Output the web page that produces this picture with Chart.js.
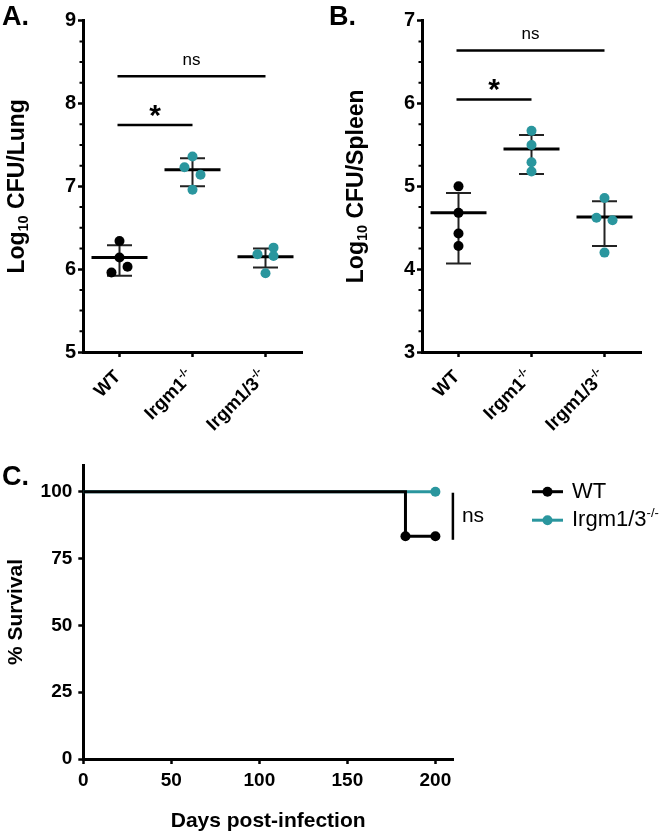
<!DOCTYPE html>
<html>
<head>
<meta charset="utf-8">
<script src="https://cdn.jsdelivr.net/npm/chart.js@4"></script>
<style>
html,body{margin:0;padding:0;background:#fff;width:666px;height:836px;overflow:hidden}
canvas{position:absolute}
#cA{left:0;top:0;width:333px;height:460px}
#cB{left:326px;top:0;width:340px;height:460px}
#cC{left:0;top:460px;width:666px;height:376px}
</style>
</head>
<body>
<canvas id="cA" width="333" height="460"></canvas>
<canvas id="cB" width="340" height="460"></canvas>
<canvas id="cC" width="666" height="376"></canvas>
<script>
// ---------------- data ----------------
const categories = ['WT', 'Irgm1', 'Irgm1/3'];
const categorySup = ['', '-/-', '-/-'];

const lungWT = [6.34, 6.14, 6.03, 5.96];
const lungIrgm1 = [7.36, 7.14, 7.23, 6.96];
const lungIrgm13 = [6.26, 6.18, 6.16, 5.95];
const lungMean = [6.14, 7.20, 6.15];
const lungErrLow = [5.92, 7.00, 6.02];
const lungErrHigh = [6.29, 7.34, 6.25];
const lungTicks = [5, 6, 7, 8, 9];
const lungSigPairs = [[0, 1], [0, 2]];
const lungSigLevels = [7.74, 8.33];
const lungSigLabels = ['*', 'ns'];

const spleenWT = [5.00, 4.68, 4.43, 4.28];
const spleenIrgm1 = [5.67, 5.50, 5.29, 5.18];
const spleenIrgm13 = [4.86, 4.59, 4.62, 4.20];
const spleenMean = [4.68, 5.45, 4.63];
const spleenErrLow = [4.07, 5.15, 4.28];
const spleenErrHigh = [4.92, 5.62, 4.82];
const spleenTicks = [3, 4, 5, 6, 7];
const spleenSigPairs = [[0, 1], [0, 2]];
const spleenSigLevels = [6.05, 6.64];
const spleenSigLabels = ['*', 'ns'];

const survivalGroups = ['WT', 'Irgm1/3'];
const survivalGroupSup = ['', '-/-'];
const wtDays = [0, 183, 200];
const wtSurvival = [100, 83.33, 83.33];
const koDays = [0, 200];
const koSurvival = [100, 100];
const dayTicks = [0, 50, 100, 150, 200];
const survivalTicks = [0, 25, 50, 75, 100];
const survivalSigLabel = 'ns';

// ---------------- style ----------------
const FONT = '"Liberation Sans", Arial, Helvetica, sans-serif';
const TEAL = '#2a969e';
const BLACK = '#000000';
const groupColors = [BLACK, TEAL, TEAL];

// simple dot-spreading: replicates closer than one dot apart are spread sideways
function spreadOffsets(values, minGap, step) {
  const order = values.map((v, i) => i).sort((a, b) => values[b] - values[a]);
  const cluster = new Array(values.length);
  let c = 0;
  order.forEach((k, j) => {
    if (j > 0 && values[order[j - 1]] - values[k] >= minGap) c++;
    cluster[k] = c;
  });
  const counts = {}, used = {};
  cluster.forEach(cl => counts[cl] = (counts[cl] || 0) + 1);
  return values.map((v, i) => {
    const cl = cluster[i];
    if (counts[cl] < 2) return 0;
    used[cl] = (used[cl] || 0) + 1;
    return (used[cl] % 2 ? 1 : -1) * step;
  });
}

function drawSupText(ctx, main, sup, size, supSize, supRise, weight) {
  // right-aligned at origin
  ctx.textAlign = 'right';
  let sw = 0;
  if (sup) {
    ctx.font = `${weight} ${supSize}px ${FONT}`;
    sw = ctx.measureText(sup).width;
    ctx.fillText(sup, 0, -supRise);
  }
  ctx.font = `${weight} ${size}px ${FONT}`;
  ctx.fillText(main, -sw, 0);
}

function dotPanel(canvasId, cfg) {
  const groups = cfg.groups;
  const datasets = groups.map((vals, g) => {
    const off = spreadOffsets(vals, 0.108, 0.11);
    return {
      label: categories[g],
      data: vals.map((v, i) => ({x: g + off[i], y: v})),
      backgroundColor: groupColors[g],
      borderColor: groupColors[g],
      borderWidth: 0,
      pointBorderWidth: 0,
      pointRadius: 5,
      pointHoverRadius: 5
    };
  });

  const plugin = {
    id: 'dotpanel',
    beforeDatasetsDraw(chart) {
      const {ctx, scales: {x, y}} = chart;
      ctx.save();
      for (let g = 0; g < categories.length; g++) {
        const cx = x.getPixelForValue(g);
        const yl = y.getPixelForValue(cfg.low[g]);
        const yh = y.getPixelForValue(cfg.high[g]);
        const ym = y.getPixelForValue(cfg.mean[g]);
        ctx.strokeStyle = '#222';
        ctx.lineWidth = 2;
        ctx.beginPath();
        ctx.moveTo(cx, yl); ctx.lineTo(cx, yh);
        ctx.moveTo(cx - 12.5, yl); ctx.lineTo(cx + 12.5, yl);
        ctx.moveTo(cx - 12.5, yh); ctx.lineTo(cx + 12.5, yh);
        ctx.stroke();
        ctx.strokeStyle = '#000';
        ctx.lineWidth = 3;
        ctx.beginPath();
        ctx.moveTo(cx - 28, ym); ctx.lineTo(cx + 28, ym);
        ctx.stroke();
      }
      ctx.restore();
    },
    afterDraw(chart) {
      const {ctx, scales: {x, y}, chartArea} = chart;
      ctx.save();
      ctx.fillStyle = '#000';
      ctx.strokeStyle = '#000';
      // minor ticks
      ctx.lineWidth = 2;
      ctx.beginPath();
      for (let v = y.min; v <= y.max + 1e-9; v += 0.25) {
        if (Math.abs(v - Math.round(v)) < 1e-6) continue;
        const py = y.getPixelForValue(v);
        ctx.moveTo(chartArea.left - 3.5, py);
        ctx.lineTo(chartArea.left, py);
      }
      ctx.stroke();
      // category labels (rotated)
      categories.forEach((c, i) => {
        const px = x.getPixelForValue(i);
        ctx.save();
        ctx.translate(px - 1.5, chartArea.bottom + 22);
        ctx.rotate(-Math.PI / 4);
        ctx.textBaseline = 'middle';
        drawSupText(ctx, c, categorySup[i], 18.5, 11, 6, 'bold');
        ctx.restore();
      });
      // y title with subscript
      ctx.save();
      ctx.translate(cfg.titleX, (chartArea.top + chartArea.bottom) / 2);
      ctx.rotate(-Math.PI / 2);
      ctx.textBaseline = 'middle';
      ctx.textAlign = 'left';
      const parts = [['Log', 23, 0], ['10', 14.5, 6], [' ' + cfg.title, 23, 0]];
      let total = 0;
      parts.forEach(p => { ctx.font = `bold ${p[1]}px ${FONT}`; total += ctx.measureText(p[0]).width; });
      let tx = -total / 2;
      parts.forEach(p => {
        ctx.font = `bold ${p[1]}px ${FONT}`;
        ctx.fillText(p[0], tx, p[2]);
        tx += ctx.measureText(p[0]).width;
      });
      ctx.restore();
      // significance bars
      cfg.sigPairs.forEach((pr, k) => {
        const py = y.getPixelForValue(cfg.sigLevels[k]);
        const x1 = x.getPixelForValue(pr[0]) - 2;
        const x2 = x.getPixelForValue(pr[1]);
        ctx.lineWidth = 2.5;
        ctx.beginPath();
        ctx.moveTo(x1, py); ctx.lineTo(x2, py);
        ctx.stroke();
        ctx.textAlign = 'center';
        ctx.textBaseline = 'alphabetic';
        const lab = cfg.sigLabels[k];
        if (lab === '*') {
          ctx.font = `bold 30px ${FONT}`;
          ctx.fillText(lab, (x1 + x2) / 2, py - 0.5);
        } else {
          ctx.font = `17px ${FONT}`;
          ctx.fillText(lab, (x1 + x2) / 2, py - 11.5);
        }
      });
      // panel letter
      ctx.textAlign = 'left';
      ctx.textBaseline = 'alphabetic';
      ctx.font = `bold 27px ${FONT}`;
      ctx.fillText(cfg.letter, cfg.letterX, 25);
      ctx.restore();
    }
  };

  return new Chart(document.getElementById(canvasId), {
    type: 'scatter',
    data: {datasets},
    plugins: [plugin],
    options: {
      responsive: false,
      animation: false,
      events: [],
      layout: {padding: {top: 20.7, right: cfg.padRight, bottom: 0, left: 0}},
      plugins: {legend: {display: false}, tooltip: {enabled: false}},
      scales: {
        x: {
          type: 'linear', min: -0.5, max: 2.5,
          afterBuildTicks: s => { s.ticks = categories.map((c, i) => ({value: i})); },
          ticks: {display: false},
          grid: {display: true, drawOnChartArea: false, drawTicks: true, tickLength: 5, tickWidth: 2.5, tickColor: '#000'},
          border: {display: true, color: '#000', width: 3},
          afterFit: s => { s.height = 108; s.paddingLeft = 0; s.paddingRight = 0; }
        },
        y: {
          type: 'linear', min: cfg.ticks[0], max: cfg.ticks[cfg.ticks.length - 1],
          afterBuildTicks: s => { s.ticks = cfg.ticks.map(v => ({value: v})); },
          ticks: {color: '#000', padding: 2, font: {family: FONT, size: 20, weight: 'bold'}, callback: v => String(v)},
          grid: {display: true, drawOnChartArea: false, drawTicks: true, tickLength: 5, tickWidth: 2.5, tickColor: '#000'},
          border: {display: true, color: '#000', width: 3},
          afterFit: s => { s.width = cfg.axisLeft; s.paddingTop = 0; s.paddingBottom = 0; }
        }
      }
    }
  });
}

dotPanel('cA', {
  groups: [lungWT, lungIrgm1, lungIrgm13],
  mean: lungMean, low: lungErrLow, high: lungErrHigh,
  ticks: lungTicks,
  sigPairs: lungSigPairs, sigLevels: lungSigLevels, sigLabels: lungSigLabels,
  title: 'CFU/Lung', titleX: 18, letter: 'A.', letterX: 2,
  axisLeft: 83, padRight: 31
});

dotPanel('cB', {
  groups: [spleenWT, spleenIrgm1, spleenIrgm13],
  mean: spleenMean, low: spleenErrLow, high: spleenErrHigh,
  ticks: spleenTicks,
  sigPairs: spleenSigPairs, sigLevels: spleenSigLevels, sigLabels: spleenSigLabels,
  title: 'CFU/Spleen', titleX: 31, letter: 'B.', letterX: 3,
  axisLeft: 96, padRight: 25
});

// ---------------- panel C ----------------
const survivalPlugin = {
  id: 'survivalExtras',
  afterDraw(chart) {
    const {ctx, scales: {x, y}} = chart;
    ctx.save();
    ctx.fillStyle = '#000';
    ctx.strokeStyle = '#000';
    // significance bracket
    const bx = x.getPixelForValue(wtDays[wtDays.length - 1]) + 17.5;
    const y1 = y.getPixelForValue(koSurvival[koSurvival.length - 1]) + 1;
    const y2 = y.getPixelForValue(wtSurvival[wtSurvival.length - 1]) + 3.5;
    ctx.lineWidth = 2.5;
    ctx.beginPath();
    ctx.moveTo(bx, y1); ctx.lineTo(bx, y2);
    ctx.stroke();
    ctx.font = `21px ${FONT}`;
    ctx.textAlign = 'left';
    ctx.textBaseline = 'middle';
    ctx.fillText(survivalSigLabel, bx + 9, (y1 + y2) / 2);
    // legend
    chart.data.datasets.forEach((ds, i) => {
      const ly = 31.7 + i * 28.5;
      ctx.strokeStyle = ds.borderColor;
      ctx.fillStyle = ds.borderColor;
      ctx.lineWidth = 3;
      ctx.beginPath();
      ctx.moveTo(532, ly); ctx.lineTo(563, ly);
      ctx.stroke();
      ctx.beginPath();
      ctx.arc(547.5, ly, 5, 0, Math.PI * 2);
      ctx.fill();
      ctx.fillStyle = '#000';
      ctx.save();
      ctx.textBaseline = 'middle';
      ctx.font = `22px ${FONT}`;
      const mw = ctx.measureText(ds.label).width;
      ctx.font = `13px ${FONT}`;
      const sw = survivalGroupSup[i] ? ctx.measureText(survivalGroupSup[i]).width : 0;
      ctx.translate(572 + mw + sw, ly);
      drawSupText(ctx, ds.label, survivalGroupSup[i], 22, 13, 7, 'normal');
      ctx.restore();
    });
    // panel letter
    ctx.fillStyle = '#000';
    ctx.textAlign = 'left';
    ctx.textBaseline = 'alphabetic';
    ctx.font = `bold 27px ${FONT}`;
    ctx.fillText('C.', 2, 25);
    ctx.restore();
  }
};

new Chart(document.getElementById('cC'), {
  type: 'line',
  data: {
    datasets: [
      {
        label: survivalGroups[0],
        data: wtDays.map((d, i) => ({x: d, y: wtSurvival[i]})),
        borderColor: BLACK, backgroundColor: BLACK,
        borderWidth: 3, stepped: 'before', fill: false,
        pointRadius: c => c.dataIndex === 0 ? 0 : 5,
        pointBorderWidth: 0, pointBackgroundColor: BLACK
      },
      {
        label: survivalGroups[1],
        data: koDays.map((d, i) => ({x: d, y: koSurvival[i]})),
        borderColor: TEAL, backgroundColor: TEAL,
        borderWidth: 3, stepped: 'before', fill: false,
        pointRadius: c => c.dataIndex === 0 ? 0 : 5,
        pointBorderWidth: 0, pointBackgroundColor: TEAL
      }
    ]
  },
  plugins: [survivalPlugin],
  options: {
    responsive: false,
    animation: false,
    events: [],
    layout: {padding: {top: 5, right: 213, bottom: 0, left: 0}},
    plugins: {legend: {display: false}, tooltip: {enabled: false}},
    scales: {
      x: {
        type: 'linear', min: 0, max: 210,
        afterBuildTicks: s => { s.ticks = dayTicks.map(v => ({value: v})); },
        ticks: {color: '#000', padding: 5, maxRotation: 0, font: {family: FONT, size: 19, weight: 'bold'}, callback: v => String(v)},
        grid: {display: true, drawOnChartArea: false, drawTicks: true, tickLength: 5, tickWidth: 2.5, tickColor: '#000'},
        border: {display: true, color: '#000', width: 3},
        title: {display: true, text: 'Days post-infection', color: '#000', font: {family: FONT, size: 21, weight: 'bold', lineHeight: 1.2}, padding: {top: 0, bottom: 2}},
        afterFit: s => { s.height = 77; s.paddingLeft = 0; s.paddingRight = 0; }
      },
      y: {
        type: 'linear', min: 0, max: 110,
        afterBuildTicks: s => { s.ticks = survivalTicks.map(v => ({value: v})); },
        ticks: {color: '#000', padding: 6, font: {family: FONT, size: 19, weight: 'bold'}, callback: v => String(v)},
        grid: {display: true, drawOnChartArea: false, drawTicks: true, tickLength: 5, tickWidth: 2.5, tickColor: '#000'},
        border: {display: true, color: '#000', width: 3},
        title: {display: true, text: '% Survival', color: '#000', font: {family: FONT, size: 21, weight: 'bold', lineHeight: 1.2}, padding: {top: 4, bottom: 0}},
        afterFit: s => { s.width = 83.3; s.paddingTop = 0; s.paddingBottom = 0; }
      }
    }
  }
});
</script>
</body>
</html>
